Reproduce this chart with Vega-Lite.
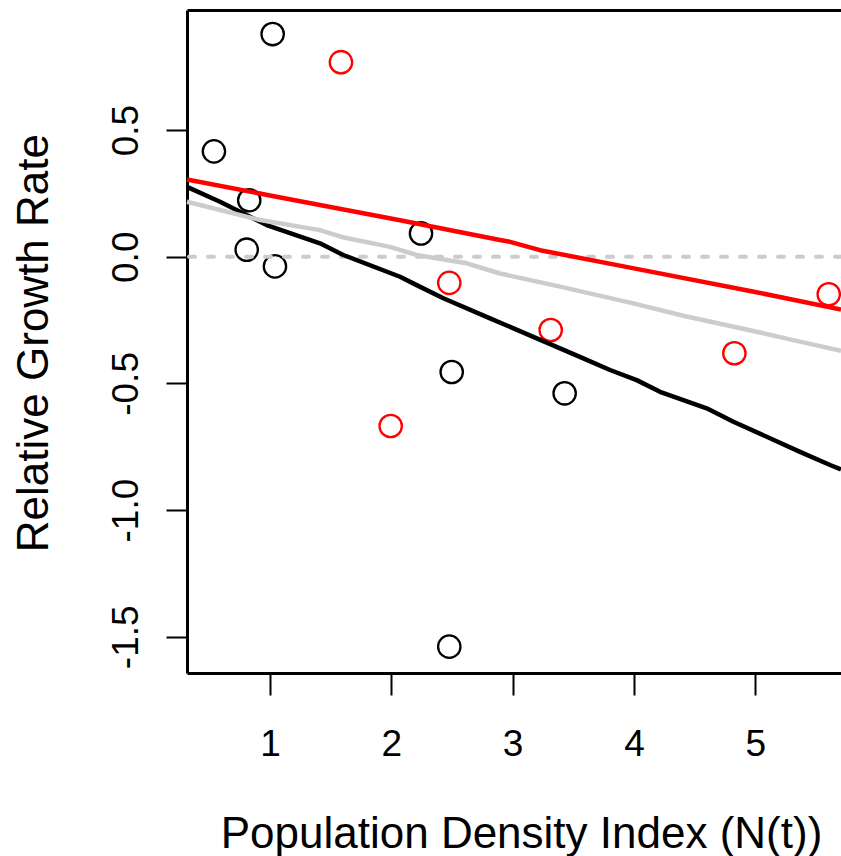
{
  "$schema": "https://vega.github.io/schema/vega-lite/v6.json",
  "width": 654,
  "height": 663,
  "autosize": "none",
  "padding": {"left": 187, "top": 10, "right": 0, "bottom": 183},
  "background": "white",
  "config": {"view": {"stroke": null}, "font": "Liberation Sans"},
  "datasets": {
    "points": [
      {"n": 1.022, "r": 0.879, "g": "A"},
      {"n": 0.538, "r": 0.416, "g": "A"},
      {"n": 0.829, "r": 0.223, "g": "A"},
      {"n": 0.808, "r": 0.028, "g": "A"},
      {"n": 1.041, "r": -0.038, "g": "A"},
      {"n": 2.245, "r": 0.092, "g": "A"},
      {"n": 2.498, "r": -0.455, "g": "A"},
      {"n": 3.429, "r": -0.539, "g": "A"},
      {"n": 2.478, "r": -1.539, "g": "A"},
      {"n": 1.585, "r": 0.768, "g": "B"},
      {"n": 2.478, "r": -0.103, "g": "B"},
      {"n": 3.314, "r": -0.289, "g": "B"},
      {"n": 1.995, "r": -0.668, "g": "B"},
      {"n": 4.828, "r": -0.381, "g": "B"},
      {"n": 5.606, "r": -0.148, "g": "B"}
    ],
    "gray": [
      {"n": 0.316, "r": 0.217}, {"n": 0.918, "r": 0.145}, {"n": 1.412, "r": 0.105},
      {"n": 1.6, "r": 0.077}, {"n": 1.989, "r": 0.039}, {"n": 2.209, "r": 0.007},
      {"n": 2.622, "r": -0.026}, {"n": 2.896, "r": -0.066}, {"n": 3.391, "r": -0.118},
      {"n": 3.995, "r": -0.184}, {"n": 4.407, "r": -0.233}, {"n": 5.012, "r": -0.296},
      {"n": 5.369, "r": -0.335}, {"n": 5.707, "r": -0.371}
    ],
    "black": [
      {"n": 0.316, "r": 0.276}, {"n": 0.588, "r": 0.217}, {"n": 0.973, "r": 0.125},
      {"n": 1.412, "r": 0.053}, {"n": 1.604, "r": 0.007}, {"n": 2.072, "r": -0.079},
      {"n": 2.209, "r": -0.112}, {"n": 2.429, "r": -0.164}, {"n": 2.814, "r": -0.243},
      {"n": 3.583, "r": -0.401}, {"n": 3.803, "r": -0.447}, {"n": 4.023, "r": -0.487},
      {"n": 4.215, "r": -0.533}, {"n": 4.6, "r": -0.598}, {"n": 4.82, "r": -0.651},
      {"n": 5.369, "r": -0.77}, {"n": 5.617, "r": -0.822}, {"n": 5.707, "r": -0.839}
    ],
    "red": [
      {"n": 0.316, "r": 0.305}, {"n": 1.0, "r": 0.242}, {"n": 2.072, "r": 0.144},
      {"n": 2.896, "r": 0.066}, {"n": 2.979, "r": 0.059}, {"n": 3.226, "r": 0.026},
      {"n": 4.0, "r": -0.046}, {"n": 5.0, "r": -0.139}, {"n": 5.707, "r": -0.208}
    ]
  },
  "resolve": {"axis": {"x": "independent"}},
  "layer": [
    {
      "data": {"name": "points"},
      "mark": {"type": "point", "shape": "circle", "filled": false, "size": 500, "strokeWidth": 2.3, "opacity": 1},
      "encoding": {
        "x": {
          "field": "n", "type": "quantitative",
          "scale": {"domain": [0.316, 5.707], "nice": false, "zero": false},
          "axis": {
            "orient": "bottom", "values": [1, 2, 3, 4, 5], "format": "d", "grid": false,
            "domainColor": "black", "domainWidth": 3,
            "tickColor": "black", "tickWidth": 2, "tickSize": 22,
            "labelFontSize": 37, "labelColor": "black", "labelPadding": 60, "labelBaseline": "alphabetic",
            "labelFlush": false, "labelOverlap": false, "labelFont": "Liberation Sans",
            "title": "Population Density Index (N(t))", "titleFontSize": 44, "titleFontWeight": "normal",
            "titleColor": "black", "titleFont": "Liberation Sans",
            "titleX": 334, "titleY": 174, "titleAlign": "center", "titleBaseline": "alphabetic"
          }
        },
        "y": {
          "field": "r", "type": "quantitative",
          "scale": {"domain": [-1.643, 0.974], "nice": false, "zero": false},
          "axis": {
            "values": [-1.5, -1, -0.5, 0, 0.5], "grid": false,
            "labelExpr": "replace(format(datum.value, '.1f'), '\u2212', '-')",
            "domainColor": "black", "domainWidth": 3,
            "tickColor": "black", "tickWidth": 2, "tickSize": 21,
            "labelFontSize": 37, "labelColor": "black", "labelPadding": 29,
            "labelAngle": 270, "labelAlign": "center", "labelBaseline": "alphabetic",
            "labelFlush": false, "labelOverlap": false, "labelFont": "Liberation Sans",
            "title": "Relative Growth Rate", "titleFontSize": 44, "titleFontWeight": "normal",
            "titleColor": "black", "titleFont": "Liberation Sans",
            "titleAngle": 270, "titleX": -140, "titleY": 332.6, "titleAlign": "center", "titleBaseline": "alphabetic"
          }
        },
        "color": {
          "field": "g", "type": "nominal",
          "scale": {"domain": ["A", "B"], "range": ["#000000", "#ff0000"]},
          "legend": null
        }
      }
    },
    {
      "data": {"values": [{}]},
      "mark": {"type": "rule", "color": "#cccccc", "strokeWidth": 4, "strokeDash": [6, 13], "strokeCap": "round"},
      "encoding": {"y": {"datum": 0, "type": "quantitative"}}
    },
    {
      "data": {"name": "black"},
      "mark": {"type": "line", "color": "#000000", "strokeWidth": 4.5, "strokeJoin": "round"},
      "encoding": {
        "x": {"field": "n", "type": "quantitative", "axis": null},
        "y": {"field": "r", "type": "quantitative"}
      }
    },
    {
      "data": {"name": "gray"},
      "mark": {"type": "line", "color": "#cccccc", "strokeWidth": 4.5, "strokeJoin": "round"},
      "encoding": {
        "x": {
          "field": "n", "type": "quantitative",
          "axis": {"orient": "top", "labels": false, "ticks": false, "title": null, "grid": false,
                   "domainColor": "black", "domainWidth": 3}
        },
        "y": {"field": "r", "type": "quantitative"}
      }
    },
    {
      "data": {"name": "red"},
      "mark": {"type": "line", "color": "#ff0000", "strokeWidth": 4.5, "strokeJoin": "round"},
      "encoding": {
        "x": {"field": "n", "type": "quantitative", "axis": null},
        "y": {"field": "r", "type": "quantitative"}
      }
    }
  ]
}
